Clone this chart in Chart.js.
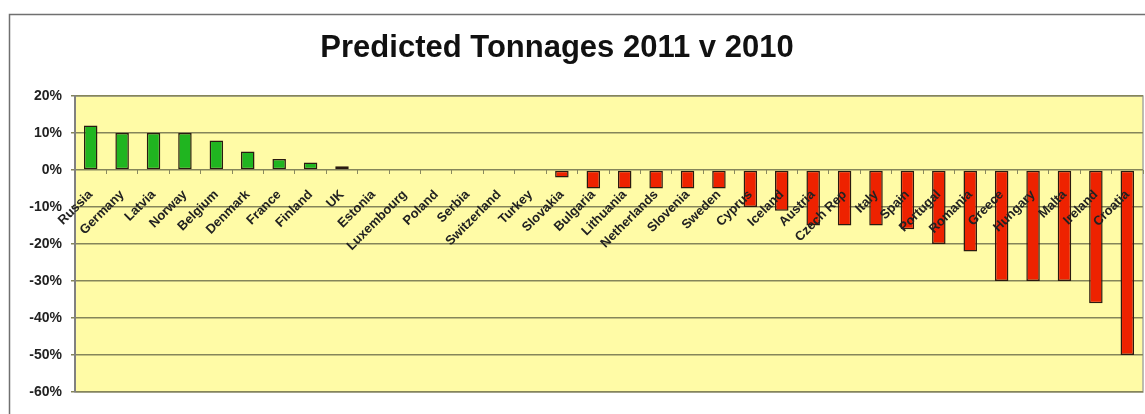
<!DOCTYPE html>
<html>
<head>
<meta charset="utf-8">
<script src="https://cdn.jsdelivr.net/npm/chart.js@4.4.1/dist/chart.umd.min.js"></script>
<style>
  html, body { margin: 0; padding: 0; background: #fff; }
  #wrap { width: 1145px; height: 414px; }
</style>
</head>
<body>
<div id="wrap"><canvas id="chart" width="1145" height="414"></canvas></div>
<script>
const countries = [
  "Russia", "Germany", "Latvia", "Norway", "Belgium", "Denmark", "France", "Finland", "UK",
  "Estonia", "Luxembourg", "Poland", "Serbia", "Switzerland", "Turkey", "Slovakia",
  "Bulgaria", "Lithuania", "Netherlands", "Slovenia", "Sweden", "Cyprus", "Iceland",
  "Austria", "Czech Rep", "Italy", "Spain", "Portugal", "Romania", "Greece", "Hungary",
  "Malta", "Ireland", "Croatia"
];
const change = [
  12, 10, 10, 10, 8, 5, 3, 2, 1,
  0, 0, 0, 0, 0, 0, -2,
  -5, -5, -5, -5, -5, -10, -11,
  -15, -15, -15, -16, -20, -22, -30, -30,
  -30, -36, -50
];
const yTicks = [20, 10, 0, -10, -20, -30, -40, -50, -60];
const chartTitle = "Predicted Tonnages 2011 v 2010";

const FONT = "'Liberation Sans', Arial, sans-serif";

// outer frame, yellow plot area and the title (slightly left of centre, like the original)
const backdrop = {
  id: "backdrop",
  beforeDraw(chart) {
    const { ctx, chartArea: a } = chart;
    ctx.save();
    ctx.strokeStyle = "#707070";
    ctx.lineWidth = 1.5;
    ctx.strokeRect(9.5, 14.5, 1160, 420);
    ctx.fillStyle = "#fffba6";
    ctx.fillRect(a.left, a.top, a.right - a.left, a.bottom - a.top);
    ctx.strokeStyle = "#a8a8a0";
    ctx.lineWidth = 1.5;
    ctx.strokeRect(a.left, a.top, a.right - a.left, a.bottom - a.top);

    ctx.fillStyle = "#111";
    ctx.font = "bold 31px " + FONT;
    ctx.textAlign = "center";
    ctx.textBaseline = "alphabetic";
    ctx.fillText(chartTitle, 557, 57);
    ctx.restore();
  }
};

new Chart(document.getElementById("chart"), {
  type: "bar",
  data: {
    labels: countries,
    datasets: [{
      data: change,
      backgroundColor: change.map(v => v >= 0 ? "#20b520" : "#ee2200"),
      borderColor: "#2a1a10",
      borderWidth: 1.5,
      borderSkipped: false,
      barPercentage: 0.43,
      categoryPercentage: 1
    }]
  },
  options: {
    responsive: false,
    animation: false,
    layout: { padding: { left: 0, right: 2, top: 96, bottom: 22 } },
    plugins: {
      legend: { display: false },
      tooltip: { enabled: false },
      title: { display: false }
    },
    scales: {
      x: {
        position: { y: 0 },
        offset: true,
        afterFit(scale) { scale.paddingLeft = 0; scale.paddingRight = 0; },
        grid: { drawOnChartArea: false, drawTicks: true, tickLength: 4, color: "#8a8a60", lineWidth: 1 },
        border: { display: false },
        ticks: {
          z: 1, // labels sit on top of the bars
          autoSkip: false,
          minRotation: 45,
          maxRotation: 45,
          padding: 13,
          color: "#222",
          font: { family: FONT, size: 13, weight: "bold" }
        }
      },
      y: {
        min: -60,
        max: 20,
        afterBuildTicks(scale) { scale.ticks = yTicks.map(v => ({ value: v })); },
        afterFit(scale) { scale.width = 75; },
        grid: { color: "#85855a", lineWidth: 1.5, tickLength: 4 },
        border: { color: "#808080", width: 2 },
        ticks: {
          padding: 9,
          color: "#222",
          font: { family: FONT, size: 14, weight: "bold" },
          callback: v => v + "%"
        }
      }
    }
  },
  plugins: [backdrop]
});
</script>
</body>
</html>
